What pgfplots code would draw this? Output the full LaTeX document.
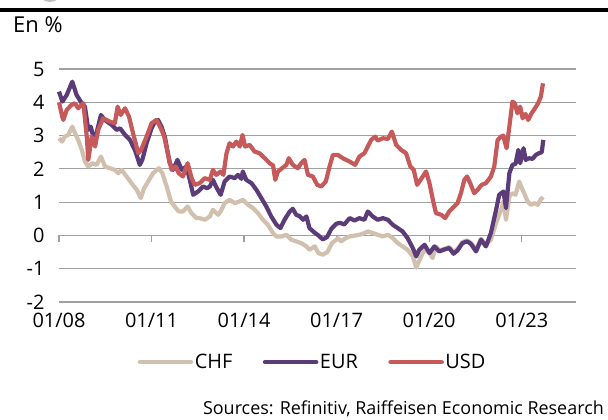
\documentclass[border=0pt]{standalone}
\usepackage{fontspec}
\setmainfont{Open Sans}
\usepackage{pgfplots}
\pgfplotsset{compat=1.18}
\definecolor{chf}{RGB}{210,192,175}
\definecolor{eur}{RGB}{92,60,120}
\definecolor{usd}{RGB}{198,90,90}
\definecolor{gridc}{RGB}{160,160,160}
\begin{document}
\begin{tikzpicture}
\path[use as bounding box] (-59bp,-118bp) rectangle (549bp,302bp);
\begin{axis}[
  at={(0,0)}, anchor=south west,
  scale only axis, width=517bp, height=233bp,
  xmin=2008, xmax=2024.76, ymin=-2, ymax=5,
  clip=false,
  axis line style={draw=none},
  ytick={-2,-1,0,1,2,3,4,5},
  xtick={2008,2011,2014,2017,2020,2023},
  xticklabels={01/08,01/11,01/14,01/17,01/20,01/23},
  tick style={draw=none},
  ymajorgrids, grid style={gridc, line width=1.2bp},
  tick label style={font=\fontsize{20}{24}\selectfont},
  /pgf/number format/assume math mode=true,
  yticklabel style={xshift=-11bp},
  xticklabel style={yshift=-8bp},
  legend style={at={(0.49,-0.258)}, anchor=center, draw=none, fill=none,
    legend columns=3, font=\fontsize{20}{24}\selectfont,
    nodes={inner xsep=1.5bp},
    /tikz/every odd column/.append style={column sep=0bp},
    /tikz/every even column/.append style={column sep=29bp}},
  legend image code/.code={\draw[#1, line cap=round, line width=4.6bp] (0bp,0bp) -- (51bp,0bp);},
  every axis plot/.append style={line width=4.2bp, line join=round},
]
% zero line ticks
\draw[gridc, line width=1.2bp] (2008,0) -- (2008,-0.2);
\draw[gridc, line width=1.2bp] (2011,0) -- (2011,-0.2);
\draw[gridc, line width=1.2bp] (2014,0) -- (2014,-0.2);
\draw[gridc, line width=1.2bp] (2017,0) -- (2017,-0.2);
\draw[gridc, line width=1.2bp] (2020,0) -- (2020,-0.2);
\draw[gridc, line width=1.2bp] (2023,0) -- (2023,-0.2);
% CHF
\addplot[chf] coordinates {
(2008.00,2.92) (2008.10,2.82) (2008.19,2.97) (2008.30,3.02) (2008.43,3.27) (2008.52,3.07)
(2008.62,2.87) (2008.74,2.57) (2008.84,2.22) (2008.95,2.07) (2009.08,2.17) (2009.22,2.12)
(2009.36,2.37) (2009.49,2.07) (2009.65,2.02) (2009.81,1.97) (2009.92,1.87) (2010.03,1.97)
(2010.19,1.77) (2010.35,1.57) (2010.52,1.37) (2010.65,1.12) (2010.76,1.42) (2010.89,1.62)
(2011.05,1.87) (2011.24,2.02) (2011.35,1.87) (2011.49,1.47) (2011.63,1.02) (2011.75,0.87)
(2011.88,0.72) (2012.02,0.72) (2012.17,0.87) (2012.29,0.67) (2012.46,0.52) (2012.56,0.52)
(2012.73,0.47) (2012.89,0.57) (2012.99,0.77) (2013.16,0.62) (2013.24,0.72) (2013.37,0.97)
(2013.53,1.07) (2013.70,0.97) (2013.85,1.02) (2013.96,1.07) (2014.13,0.92) (2014.29,0.82)
(2014.45,0.67) (2014.61,0.47) (2014.77,0.32) (2014.94,0.07) (2015.05,-0.03) (2015.21,-0.03)
(2015.37,0.02) (2015.53,-0.13) (2015.69,-0.18) (2015.85,-0.23) (2016.02,-0.33) (2016.12,-0.43)
(2016.29,-0.33) (2016.41,-0.53) (2016.55,-0.58) (2016.70,-0.50) (2016.85,-0.23) (2016.99,-0.13)
(2017.04,-0.08) (2017.15,-0.18) (2017.26,-0.10) (2017.42,-0.03) (2017.74,0.02) (2017.90,0.07)
(2018.01,0.12) (2018.17,0.07) (2018.33,0.02) (2018.50,-0.03) (2018.66,0.02) (2018.82,-0.08)
(2018.98,-0.23) (2019.14,-0.33) (2019.30,-0.43) (2019.47,-0.63) (2019.58,-0.97) (2019.74,-0.63)
(2019.85,-0.43) (2020.01,-0.53) (2020.11,-0.68) (2020.22,-0.33) (2020.33,-0.45) (2020.50,-0.40)
(2020.65,-0.35) (2020.79,-0.50) (2020.92,-0.40) (2021.08,-0.20) (2021.23,-0.15) (2021.35,-0.22)
(2021.52,-0.42) (2021.68,-0.10) (2021.84,-0.28) (2022.00,-0.13) (2022.17,0.37) (2022.33,0.77)
(2022.41,1.02) (2022.49,0.47) (2022.60,1.17) (2022.70,1.27) (2022.80,1.22) (2022.92,1.62)
(2022.98,1.47) (2023.08,1.27) (2023.19,1.02) (2023.30,0.92) (2023.42,0.97) (2023.52,0.92)
(2023.64,1.12) (2023.70,1.07)
};
\addlegendentry{CHF}
% EUR
\addplot[eur] coordinates {
(2008.00,4.32) (2008.11,4.02) (2008.25,4.22) (2008.43,4.62) (2008.57,4.22) (2008.74,3.97)
(2008.84,3.87) (2008.95,3.17) (2009.03,3.27) (2009.10,3.00) (2009.21,3.05) (2009.36,3.62)
(2009.48,3.47) (2009.71,3.32) (2009.87,3.17) (2009.98,3.22) (2010.14,3.02) (2010.30,2.87)
(2010.46,2.57) (2010.62,2.12) (2010.70,2.27) (2010.84,2.77) (2011.00,3.22) (2011.11,3.42)
(2011.21,3.47) (2011.32,3.27) (2011.43,2.97) (2011.59,2.17) (2011.70,1.97) (2011.84,2.27)
(2011.98,1.97) (2012.13,2.07) (2012.24,1.67) (2012.35,1.22) (2012.51,1.32) (2012.67,1.47)
(2012.80,1.42) (2012.89,1.47) (2012.99,1.67) (2013.10,1.45) (2013.24,1.22) (2013.37,1.62)
(2013.53,1.77) (2013.70,1.72) (2013.80,1.82) (2013.91,1.70) (2013.96,1.92) (2014.07,1.67)
(2014.24,1.57) (2014.40,1.37) (2014.56,1.12) (2014.72,0.87) (2014.88,0.57) (2015.05,0.32)
(2015.18,0.22) (2015.31,0.47) (2015.48,0.72) (2015.58,0.80) (2015.69,0.62) (2015.80,0.58)
(2015.91,0.47) (2016.02,0.57) (2016.12,0.22) (2016.29,0.08) (2016.41,0.00) (2016.55,-0.12)
(2016.69,-0.05) (2016.83,0.20) (2016.99,0.35) (2017.10,0.38) (2017.25,0.33) (2017.42,0.52)
(2017.58,0.45) (2017.74,0.52) (2017.90,0.47) (2018.01,0.72) (2018.17,0.57) (2018.33,0.47)
(2018.50,0.52) (2018.66,0.47) (2018.82,0.32) (2018.98,0.22) (2019.14,0.12) (2019.30,-0.08)
(2019.47,-0.38) (2019.58,-0.63) (2019.68,-0.43) (2019.85,-0.28) (2020.01,-0.53) (2020.17,-0.33)
(2020.33,-0.48) (2020.50,-0.42) (2020.65,-0.38) (2020.79,-0.55) (2020.92,-0.45) (2021.08,-0.23)
(2021.23,-0.18) (2021.35,-0.25) (2021.52,-0.48) (2021.68,-0.13) (2021.84,-0.33) (2022.00,0.07)
(2022.17,0.77) (2022.27,1.22) (2022.41,1.32) (2022.49,0.82) (2022.60,1.87) (2022.70,2.12)
(2022.80,2.15) (2022.89,2.57) (2022.95,2.17) (2023.06,2.62) (2023.13,2.27) (2023.24,2.32)
(2023.35,2.30) (2023.46,2.42) (2023.56,2.47) (2023.65,2.50) (2023.70,2.87)
};
\addlegendentry{EUR}
% USD
\addplot[usd] coordinates {
(2008.00,4.00) (2008.11,3.55) (2008.14,3.47) (2008.25,3.77) (2008.40,3.92) (2008.52,3.97)
(2008.62,3.82) (2008.79,3.97) (2008.90,2.97) (2008.95,2.27) (2009.06,2.97) (2009.17,2.67)
(2009.27,3.17) (2009.43,3.52) (2009.65,3.42) (2009.81,3.37) (2009.90,3.87) (2010.00,3.62)
(2010.14,3.82) (2010.27,3.57) (2010.40,3.07) (2010.57,2.47) (2010.66,2.57) (2010.84,2.97)
(2011.00,3.37) (2011.16,3.47) (2011.30,3.22) (2011.41,2.97) (2011.55,2.37) (2011.65,1.97)
(2011.78,2.07) (2011.88,1.87) (2012.02,1.77) (2012.17,2.17) (2012.30,1.72) (2012.40,1.52)
(2012.56,1.57) (2012.72,1.72) (2012.89,1.67) (2012.99,1.97) (2013.10,1.82) (2013.24,1.92)
(2013.33,1.82) (2013.43,2.47) (2013.53,2.77) (2013.64,2.67) (2013.75,2.82) (2013.86,2.67)
(2013.95,3.02) (2014.03,2.67) (2014.18,2.72) (2014.34,2.52) (2014.50,2.47) (2014.67,2.32)
(2014.83,2.17) (2014.94,2.10) (2015.01,1.67) (2015.10,1.92) (2015.23,2.02) (2015.37,2.12)
(2015.45,2.32) (2015.58,2.12) (2015.74,2.02) (2015.85,2.17) (2015.96,2.27) (2016.07,1.82)
(2016.23,1.77) (2016.37,1.52) (2016.50,1.47) (2016.65,1.62) (2016.77,2.07) (2016.88,2.42)
(2017.04,2.42) (2017.20,2.32) (2017.42,2.22) (2017.60,2.12) (2017.74,2.37) (2017.90,2.47)
(2018.01,2.67) (2018.12,2.87) (2018.25,2.97) (2018.33,2.85) (2018.50,2.92) (2018.66,2.90)
(2018.79,3.12) (2018.93,2.72) (2019.09,2.57) (2019.25,2.47) (2019.39,2.07) (2019.50,1.97)
(2019.61,1.52) (2019.72,1.67) (2019.90,1.92) (2020.01,1.57) (2020.12,1.07) (2020.22,0.67)
(2020.39,0.62) (2020.52,0.52) (2020.65,0.72) (2020.81,0.87) (2020.92,0.97) (2021.03,1.27)
(2021.14,1.67) (2021.23,1.77) (2021.33,1.57) (2021.46,1.27) (2021.57,1.37) (2021.70,1.52)
(2021.84,1.57) (2022.00,1.77) (2022.11,2.07) (2022.22,2.87) (2022.33,2.97) (2022.40,3.00)
(2022.51,2.62) (2022.60,3.27) (2022.70,4.02) (2022.78,3.97) (2022.86,3.67) (2022.95,3.87)
(2023.03,3.52) (2023.12,3.65) (2023.21,3.47) (2023.32,3.67) (2023.43,3.82) (2023.53,3.97)
(2023.62,4.17) (2023.69,4.57)
};
\addlegendentry{USD}
\end{axis}
\draw[black, line width=3.2bp] (-59bp,292bp) -- (549bp,292bp);
\begin{scope}
\clip (-59bp,292bp) rectangle (549bp,302bp);
\draw[gray!50, line width=2bp] (-9bp,312bp) circle (11bp);
\end{scope}
\node[anchor=west, inner sep=0pt, font=\fontsize{22}{26}\selectfont] at (-46bp,277bp) {En \%};
\node[anchor=east, inner sep=0pt, font=\fontsize{18}{21}\selectfont] at (545bp,-107bp) {Sources: Refinitiv, Raiffeisen Economic Research};
\end{tikzpicture}
\end{document}
